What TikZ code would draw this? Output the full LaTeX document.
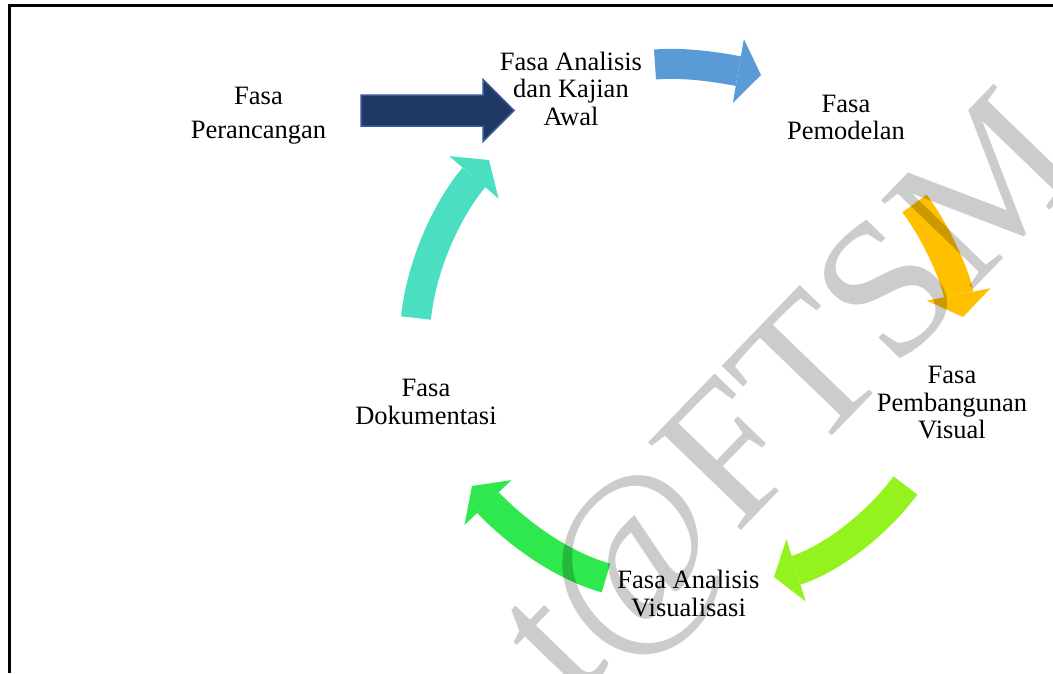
\documentclass[tikz,border=0pt]{standalone}
\usepackage{fontspec}
\setmainfont{Liberation Serif}
\usetikzlibrary{arrows.meta,calc}
\definecolor{navyfill}{HTML}{203864}
\definecolor{navyline}{HTML}{3A5A98}
\definecolor{bluec}{HTML}{5B9BD5}
\definecolor{yellowc}{HTML}{FFC000}
\definecolor{limec}{HTML}{94F21E}
\definecolor{greenc}{HTML}{2EE84D}
\definecolor{tealc}{HTML}{4ADFC0}
\begin{document}
\begin{tikzpicture}[x=1pt,y=-1pt,
  phase/.style={align=center, inner sep=0pt, font=\fontsize{26.5}{27.5}\selectfont},
  cycarrow/.style={line width=30pt, -{Triangle[length=23pt,width=65pt,line width=0pt]}},
  watermark/.style={rotate=46, anchor=base west, inner sep=0pt, font=\fontsize{195}{195}\selectfont, text=black, text opacity=0.2}
  ]
\useasboundingbox (0,0) rectangle (1053,673);
\clip (0,0) rectangle (1053,673);
\fill[white] (0,0) rectangle (1053,673);
% frame
\draw[line width=3pt] (9,673) -- (9,5.5) -- (1053,5.5);
% phase labels
\node[phase, font=\fontsize{26.5}{34}\selectfont] (per) at (258.5,115.4) {Fasa\\Perancangan};
\node[phase] (ana) at (571,88.5) {Fasa Analisis\\dan Kajian\\Awal};
\node[phase] (pem) at (846,117.5) {Fasa\\Pemodelan};
\node[phase] (pbv) at (952,403) {Fasa\\Pembangunan\\Visual};
\node[phase] (viz) at (688.5,593.5) {Fasa Analisis\\Visualisasi};
\node[phase] (dok) at (426,402) {Fasa\\Dokumentasi};
% arrow end points
\coordinate (navyTail) at (361,110.5);
\coordinate (navyTip) at (514,110.5);
\coordinate (blueS) at (655,64.5);
\coordinate (blueE) at (761,75);
\coordinate (yelS) at (914.5,203.5);
\coordinate (yelE) at (963,317);
\coordinate (limS) at (905.5,485.5);
\coordinate (limE) at (774,577);
\coordinate (grnS) at (606,578);
\coordinate (grnE) at (472,486);
\coordinate (telS) at (416,318);
\coordinate (telE) at (489,160);
% straight block arrow
\draw[fill=navyfill, draw=navyline, line width=1.5pt, line join=miter]
  ($(navyTail)+(0,-15.5)$) -- ($(navyTip)+(-31,-15.5)$) -- ($(navyTip)+(-31,-31)$) -- (navyTip)
  -- ($(navyTip)+(-31,31)$) -- ($(navyTip)+(-31,15.5)$) -- ($(navyTail)+(0,15.5)$) -- cycle;
% cycle arrows
\draw[cycarrow, draw=bluec] (blueS) .. controls (690.4,61.8) and (726.2,69) .. (blueE);
\draw[cycarrow, draw=yellowc] (yelS) .. controls (938.7,236.3) and (955.2,276.8) .. (yelE);
\draw[cycarrow, draw=limec] (limS) .. controls (872,530) and (826,561) .. (limE);
\draw[cycarrow, draw=greenc] (grnS) .. controls (554.2,563.4) and (509.3,524.9) .. (grnE);
\draw[cycarrow, draw=tealc] (telS) .. controls (422,260) and (451,204) .. (telE);
% watermark
\node[watermark] (wm) at (574,704) {t@FTSM};
\end{tikzpicture}
\end{document}
